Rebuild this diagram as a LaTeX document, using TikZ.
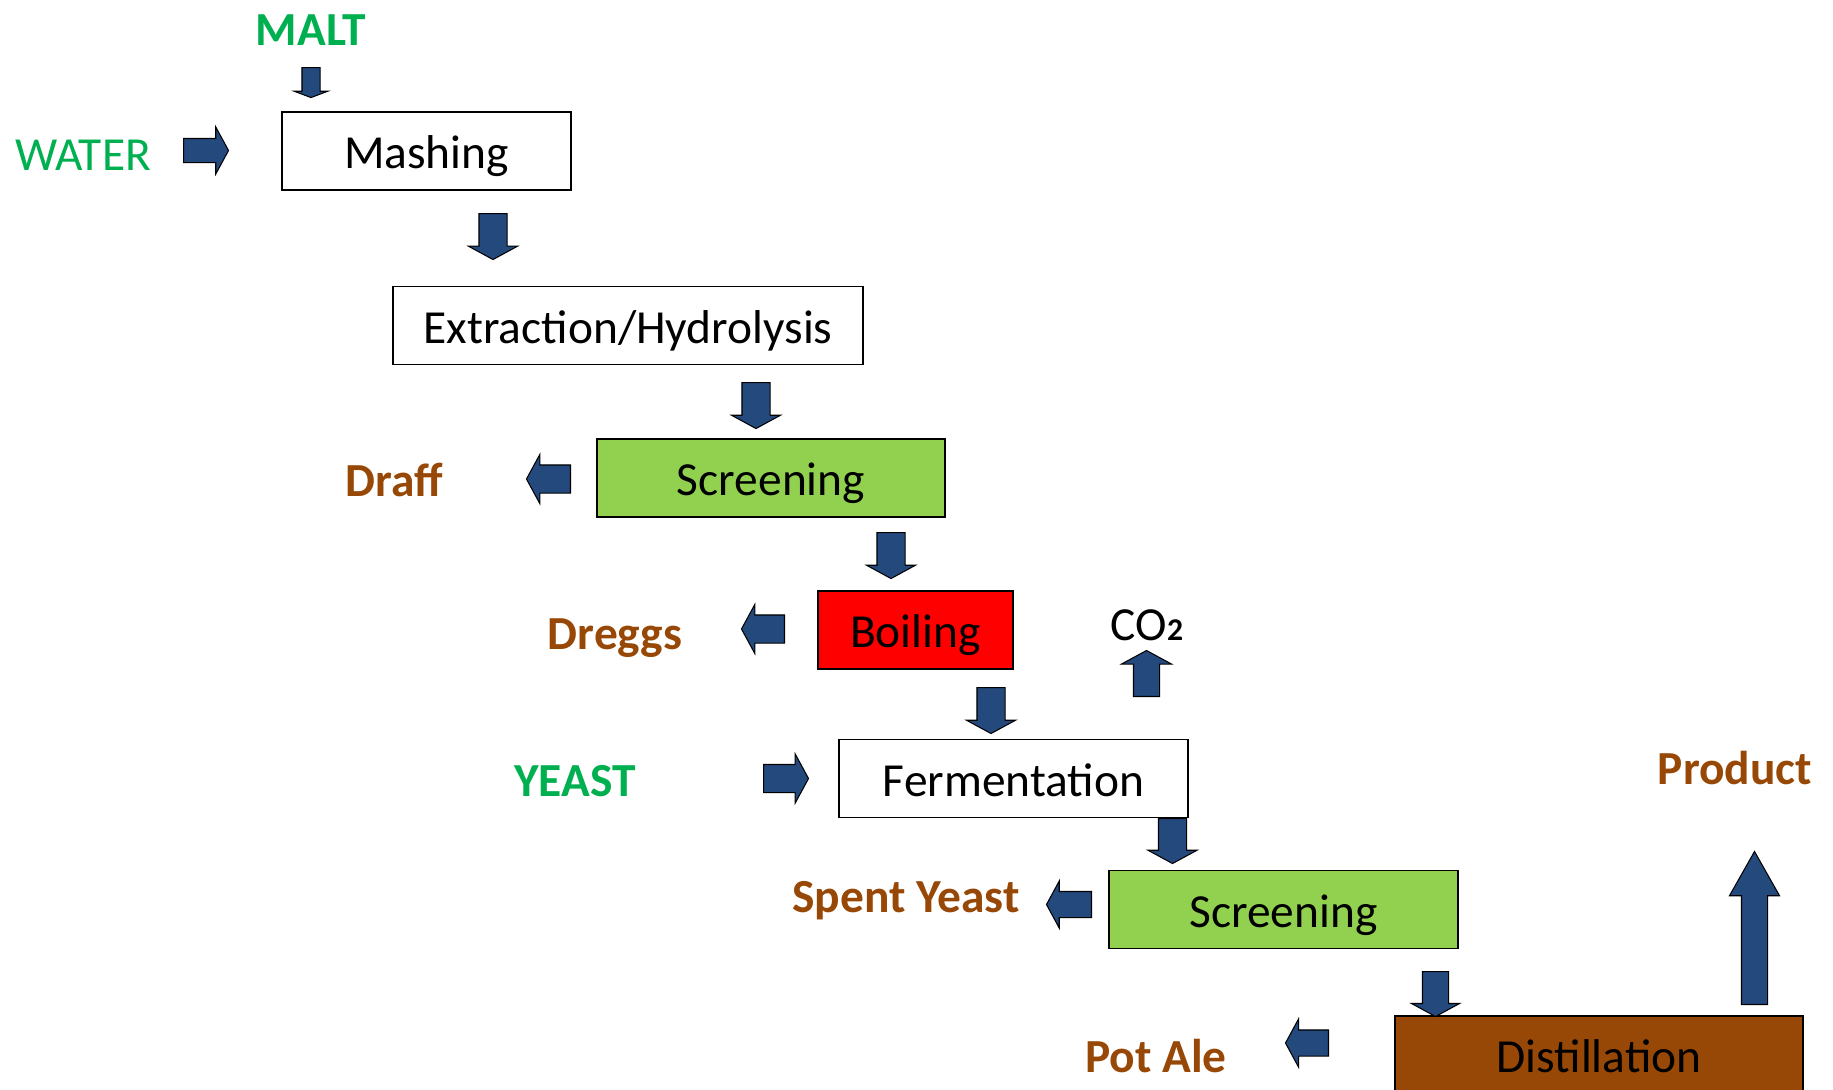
\documentclass[tikz,border=0pt]{standalone}
\usepackage{fontspec}
\setmainfont{Carlito}
\usetikzlibrary{shapes.arrows}
\definecolor{flowblue}{RGB}{36,73,125}
\definecolor{inputgreen}{RGB}{0,176,80}
\definecolor{wastebrown}{RGB}{152,72,6}
\definecolor{screengreen}{RGB}{146,208,80}
\begin{document}
\begin{tikzpicture}[
    every node/.style={font=\fontsize{27pt}{32pt}\selectfont},
    stage/.style={draw,line width=1pt,minimum height=1.56cm,inner sep=0pt,text height=20pt,text depth=0pt},
    label/.style={inner sep=0pt,text height=20pt,text depth=0pt},
    input/.style={label,text=inputgreen},
    waste/.style={label,text=wastebrown,font=\fontsize{27pt}{32pt}\selectfont\bfseries},
    flow/.style={single arrow,draw=black,fill=flowblue,line width=0.6pt,anchor=tail,
        inner xsep=0pt,inner ysep=0.27cm,single arrow head extend=0.21cm,
        single arrow tip angle=123,minimum height=0.92cm}]
    \useasboundingbox (0,0) rectangle (36.66,-21.78);
    % process stages
    \node[stage,minimum width=5.78cm] (mash) at (8.53,-3.02) {Mashing};
    \node[stage,minimum width=9.40cm] (extract) at (12.56,-6.51) {Extraction/Hydrolysis};
    \node[stage,fill=screengreen,minimum width=6.96cm] (screen1) at (15.42,-9.56) {Screening};
    \node[stage,fill=red,minimum width=3.90cm] (boil) at (18.31,-12.60) {Boiling};
    \node[stage,minimum width=6.98cm] (ferment) at (20.27,-15.57) {Fermentation};
    \node[stage,fill=screengreen,minimum width=6.98cm] (screen2) at (25.67,-18.19) {Screening};
    \node[stage,fill=wastebrown,minimum width=8.16cm] (distil) at (31.98,-21.10) {Distillation};
    % inputs and outputs
    \node[input,font=\fontsize{27pt}{32pt}\selectfont\bfseries] (malt) at (6.22,-0.56) {MALT};
    \node[input] (water) at (1.66,-3.06) {WATER};
    \node[waste] (draff) at (7.88,-9.58) {Draff};
    \node[waste] (dreggs) at (12.30,-12.64) {Dreggs};
    \node[label] (co2) at (22.94,-12.45) {CO{\fontsize{18pt}{20pt}\selectfont\bfseries 2}};
    \node[input,font=\fontsize{27pt}{32pt}\selectfont\bfseries] (yeast) at (11.50,-15.58) {YEAST};
    \node[waste] (spent) at (18.12,-17.90) {Spent Yeast};
    \node[waste] (potale) at (23.12,-21.10) {Pot Ale};
    \node[waste] (product) at (34.70,-15.34) {Product};
    % block arrows
    \node[flow,rotate=-90,inner ysep=0.17cm,single arrow head extend=0.155cm,
        single arrow tip angle=139,minimum height=0.6cm] (maltin) at (6.22,-1.34) {};
    \node[flow,inner ysep=0.23cm,single arrow head extend=0.23cm,minimum height=0.9cm] (waterin) at (3.66,-3.01) {};
    \node[flow,rotate=-90] (mash2extract) at (9.86,-4.26) {};
    \node[flow,rotate=-90] (extract2screen) at (15.12,-7.64) {};
    \node[flow,rotate=-90] (screen2boil) at (17.82,-10.64) {};
    \node[flow,rotate=180,minimum height=0.88cm] (draffout) at (11.42,-9.58) {};
    \node[flow,rotate=180,minimum height=0.86cm] (dreggsout) at (15.70,-12.58) {};
    \node[flow,rotate=-90] (boil2ferment) at (19.82,-13.74) {};
    \node[flow,rotate=90,inner ysep=0.25cm,single arrow head extend=0.24cm] (co2out) at (22.93,-13.94) {};
    \node[flow,minimum height=0.9cm] (yeastin) at (15.26,-15.57) {};
    \node[flow,rotate=-90,minimum height=0.9cm] (ferment2screen) at (23.45,-16.36) {};
    \node[flow,rotate=180,minimum height=0.9cm,inner ysep=0.25cm] (spentout) at (21.84,-18.09) {};
    \node[flow,rotate=-90,minimum height=0.9cm,inner ysep=0.25cm,single arrow head extend=0.22cm] (screen2distil) at (28.71,-19.42) {};
    \node[flow,rotate=180,minimum height=0.86cm,inner ysep=0.25cm,single arrow head extend=0.22cm] (potaleout) at (26.58,-20.86) {};
    \node[flow,rotate=90,inner ysep=0.25cm,single arrow head extend=0.24cm,
        single arrow tip angle=59,minimum height=3.06cm] (productout) at (35.09,-20.10) {};
\end{tikzpicture}
\end{document}
